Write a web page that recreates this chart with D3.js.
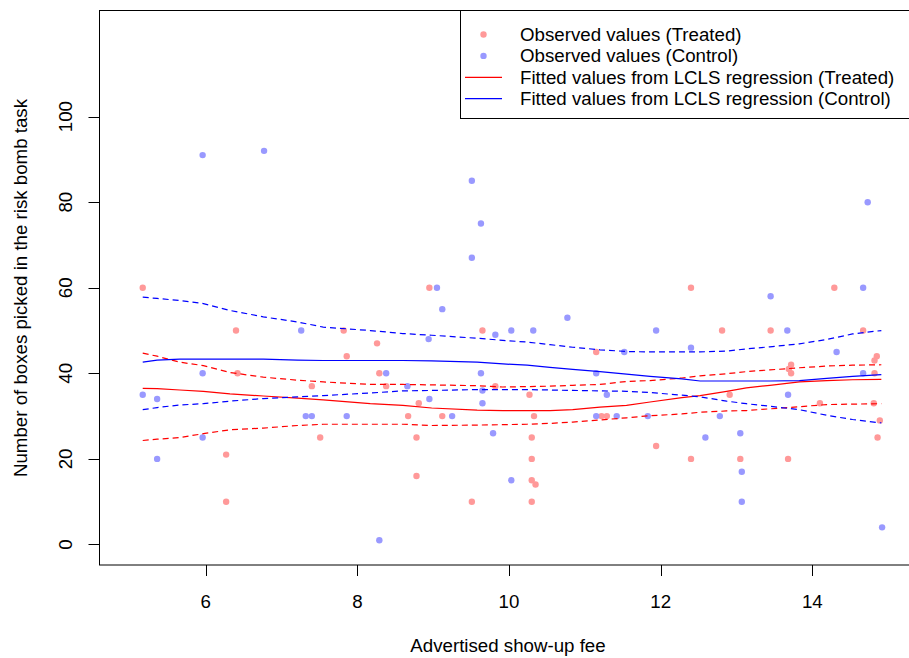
<!DOCTYPE html>
<html lang="en">
<head>
<meta charset="UTF-8">
<title>Risk bomb task</title>
<script src="https://d3js.org/d3.v7.min.js"></script>
<style>
body { margin: 0; background: #fff; }
text { font-family: "Liberation Sans", Arial, sans-serif; font-size: 18.7px; fill: #000; }
</style>
</head>
<body>
<div id="container"></div>
<script>
// axis ticks
const feeTicks = [6, 8, 10, 12, 14];
const boxTicks = [0, 20, 40, 60, 80, 100];

// observed values (treated)
const treatedFee = [5.17, 6.40, 7.82, 7.86, 6.42, 7.40, 7.51, 6.27, 6.27,
  8.95, 9.65, 8.26, 11.15, 8.29, 8.38, 9.82, 10.27, 8.81, 8.67, 9.12, 10.33, 11.22, 11.29,
  8.78, 10.30, 10.30, 8.78, 10.30, 10.35, 9.51, 10.30,
  12.40, 14.29, 12.81, 13.45, 14.67, 14.85, 14.82, 13.72, 13.69, 13.72, 14.82, 12.91,
  14.10, 14.81, 14.89, 14.86, 11.94, 12.40, 13.05, 13.68];
const treatedBoxes = [60, 50, 50, 44, 40, 37, 25, 21, 10,
  60, 50, 47, 45, 40, 37, 37, 35, 33, 30, 30, 30, 30, 30,
  25, 25, 20, 16, 15, 14, 10, 10,
  60, 60, 50, 50, 50, 44, 43, 42, 41, 40, 40, 35,
  33, 33, 29, 25, 23, 20, 20, 20];

// observed values (control)
const controlFee = [5.96, 6.77, 7.26, 5.96, 5.17, 5.36, 7.32, 7.40, 7.86, 5.96, 5.36,
  9.51, 9.63, 9.51, 9.05, 9.12, 10.77, 9.82, 10.03, 10.32, 8.94, 11.52, 8.38, 9.63, 11.15,
  8.66, 9.65, 11.29, 8.95, 9.65, 9.25, 11.15, 11.42, 9.79, 10.03, 8.29,
  14.73, 14.67, 13.45, 11.94, 13.67, 12.40, 14.32, 14.67, 13.68, 11.83, 12.78, 12.59,
  13.05, 13.07, 13.07, 14.92];
const controlBoxes = [91, 92, 50, 40, 35, 34, 30, 30, 30, 25, 20,
  85, 75, 67, 60, 55, 53, 49, 50, 50, 48, 45, 40, 40, 40,
  37, 36, 35, 34, 33, 30, 30, 30, 26, 15, 1,
  80, 60, 58, 50, 50, 46, 45, 40, 35, 30, 30, 25,
  26, 17, 10, 4];

// fitted values from LCLS regression, with bands (dashed)
const fitFee = [5.17, 5.36, 5.66, 5.97, 6.32, 6.76, 7.21, 7.55, 8.17, 8.60, 8.98, 9.58, 9.92, 10.24,
  10.54, 10.84, 11.20, 11.55, 11.86, 12.28, 12.52, 12.87, 13.13, 13.44, 13.83, 14.19, 14.53, 14.91];
const fitTreated = [36.5, 36.4, 36.1, 35.8, 35.2, 34.7, 34.2, 33.8, 32.9, 32.5, 31.9, 31.4, 31.3, 31.3,
  31.3, 31.5, 32.1, 32.5, 33.3, 34.3, 34.8, 35.8, 36.6, 37.2, 38.0, 38.3, 38.5, 38.6];
const fitTreatedHi = [44.7, 44.0, 42.6, 41.8, 40.2, 39.1, 38.4, 38.0, 37.4, 37.4, 37.3, 37.1, 36.8, 36.9,
  37.0, 37.2, 37.4, 38.1, 38.3, 38.9, 39.4, 39.9, 40.4, 40.8, 41.3, 41.7, 41.9, 42.0];
const fitTreatedLo = [24.3, 24.6, 25.0, 25.9, 26.8, 27.2, 27.8, 28.1, 28.1, 28.1, 27.8, 27.9, 28.0, 28.1,
  28.3, 28.6, 29.1, 29.6, 30.1, 30.5, 30.9, 31.2, 31.3, 31.7, 32.2, 32.7, 32.8, 32.9];
const fitControl = [42.6, 43.1, 43.3, 43.3, 43.3, 43.3, 43.1, 43.0, 43.0, 43.0, 42.9, 42.6, 42.2, 41.9,
  41.4, 40.9, 40.4, 39.8, 39.3, 38.7, 38.2, 38.2, 38.2, 38.2, 38.3, 38.8, 39.3, 39.7];
const fitControlHi = [57.8, 57.5, 57.0, 56.3, 54.7, 53.2, 52.0, 50.8, 50.0, 49.3, 48.9, 48.2, 47.7, 47.3,
  46.7, 46.1, 45.5, 45.1, 45.0, 45.0, 45.0, 45.2, 45.7, 46.2, 46.9, 47.9, 49.2, 50.0];
const fitControlLo = [31.5, 32.0, 32.6, 32.9, 33.5, 34.1, 34.5, 34.8, 35.4, 35.9, 36.0, 36.2, 36.2, 36.2,
  36.1, 36.0, 35.9, 35.8, 35.5, 34.9, 34.5, 33.5, 32.9, 32.3, 31.5, 30.2, 29.2, 28.4];

const legendLabels = ["Observed values (Treated)", "Observed values (Control)",
  "Fitted values from LCLS regression (Treated)", "Fitted values from LCLS regression (Control)"];

const width = 909;
const height = 658;
const red = "#ff0000", blue = "#0000ff";
const redPt = "#ff9999", bluePt = "#9999ff";

const svg = d3.select("#container")
  .append("svg")
  .attr("width", width)
  .attr("height", height);

const x = d3.scaleLinear().domain([4.6, 15.4]).range([99.5, 918.5]);
const y = d3.scaleLinear().domain([-4.8, 124.8]).range([565, 10.5]);

// points
svg.append("g").selectAll("circle")
  .data(d3.zip(treatedFee, treatedBoxes))
  .join("circle")
  .attr("cx", d => x(d[0]))
  .attr("cy", d => y(d[1]))
  .attr("r", 3.2)
  .attr("fill", redPt);

svg.append("g").selectAll("circle")
  .data(d3.zip(controlFee, controlBoxes))
  .join("circle")
  .attr("cx", d => x(d[0]))
  .attr("cy", d => y(d[1]))
  .attr("r", 3.2)
  .attr("fill", bluePt);

// fitted lines
const line = d3.line()
  .x(d => x(d[0]))
  .y(d => y(d[1]));

const fits = [
  [fitTreated, red, null], [fitTreatedHi, red, "6,4"], [fitTreatedLo, red, "6,4"],
  [fitControl, blue, null], [fitControlHi, blue, "6,4"], [fitControlLo, blue, "6,4"]
];
fits.forEach(([vals, col, dash]) => {
  svg.append("path")
    .datum(d3.zip(fitFee, vals))
    .attr("fill", "none")
    .attr("stroke", col)
    .attr("stroke-width", 1.2)
    .attr("stroke-dasharray", dash)
    .attr("d", line);
});

// box
svg.append("rect")
  .attr("x", x.range()[0])
  .attr("y", y.range()[1])
  .attr("width", x.range()[1] - x.range()[0])
  .attr("height", y.range()[0] - y.range()[1])
  .attr("fill", "none")
  .attr("stroke", "#000");

// x axis
const xAxis = svg.append("g");
xAxis.selectAll("line")
  .data(feeTicks)
  .join("line")
  .attr("x1", d => Math.round(x(d)) + 0.5).attr("x2", d => Math.round(x(d)) + 0.5)
  .attr("y1", y.range()[0]).attr("y2", y.range()[0] + 11)
  .attr("stroke", "#000");
xAxis.selectAll("text")
  .data(feeTicks)
  .join("text")
  .attr("x", d => x(d))
  .attr("y", 608)
  .attr("text-anchor", "middle")
  .text(d => d);

// y axis
const yAxis = svg.append("g");
yAxis.selectAll("line")
  .data(boxTicks)
  .join("line")
  .attr("x1", x.range()[0] - 11).attr("x2", x.range()[0])
  .attr("y1", d => Math.round(y(d)) + 0.5).attr("y2", d => Math.round(y(d)) + 0.5)
  .attr("stroke", "#000");
yAxis.selectAll("text")
  .data(boxTicks)
  .join("text")
  .attr("transform", d => `translate(72,${y(d)}) rotate(-90)`)
  .attr("text-anchor", "middle")
  .text(d => d);

// axis titles
svg.append("text")
  .attr("x", 508)
  .attr("y", 652)
  .attr("text-anchor", "middle")
  .text("Advertised show-up fee");
svg.append("text")
  .attr("transform", "translate(27,288) rotate(-90)")
  .attr("text-anchor", "middle")
  .text("Number of boxes picked in the risk bomb task");

// legend
const legend = svg.append("g");
legend.append("rect")
  .attr("x", 460.5).attr("y", 10.5)
  .attr("width", 500).attr("height", 108)
  .attr("fill", "#fff")
  .attr("stroke", "#000");
const rowY = [34.5, 55.9, 77.3, 98.7];
legend.append("circle").attr("cx", 483.5).attr("cy", rowY[0]).attr("r", 3.2).attr("fill", redPt);
legend.append("circle").attr("cx", 483.5).attr("cy", rowY[1]).attr("r", 3.2).attr("fill", bluePt);
legend.append("line").attr("x1", 465).attr("x2", 502).attr("y1", rowY[2]).attr("y2", rowY[2])
  .attr("stroke", red).attr("stroke-width", 1.2);
legend.append("line").attr("x1", 465).attr("x2", 502).attr("y1", rowY[3]).attr("y2", rowY[3])
  .attr("stroke", blue).attr("stroke-width", 1.2);
legend.selectAll("text.lab")
  .data(legendLabels)
  .join("text")
  .attr("class", "lab")
  .attr("x", 520)
  .attr("y", (d, i) => rowY[i] + 6.5)
  .text(d => d);
</script>
</body>
</html>
